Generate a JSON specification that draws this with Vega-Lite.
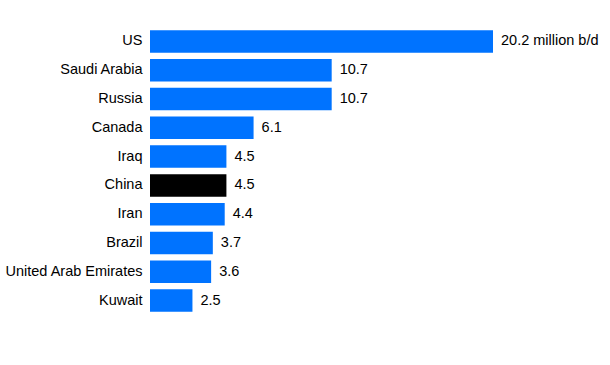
{
  "$schema": "https://vega.github.io/schema/vega-lite/v6.json",
  "autosize": {"type": "none"},
  "width": 343,
  "height": 288,
  "padding": {"left": 150, "top": 27, "right": 117, "bottom": 50},
  "background": "white",
  "config": {"view": {"stroke": null}, "font": "Liberation Sans"},
  "data": {"values": [
    {"country": "US", "value": 20.2, "label": "20.2 million b/d", "highlight": "no"},
    {"country": "Saudi Arabia", "value": 10.7, "label": "10.7", "highlight": "no"},
    {"country": "Russia", "value": 10.7, "label": "10.7", "highlight": "no"},
    {"country": "Canada", "value": 6.1, "label": "6.1", "highlight": "no"},
    {"country": "Iraq", "value": 4.5, "label": "4.5", "highlight": "no"},
    {"country": "China", "value": 4.5, "label": "4.5", "highlight": "yes"},
    {"country": "Iran", "value": 4.4, "label": "4.4", "highlight": "no"},
    {"country": "Brazil", "value": 3.7, "label": "3.7", "highlight": "no"},
    {"country": "United Arab Emirates", "value": 3.6, "label": "3.6", "highlight": "no"},
    {"country": "Kuwait", "value": 2.5, "label": "2.5", "highlight": "no"}
  ]},
  "encoding": {
    "y": {
      "field": "country", "type": "nominal", "sort": null,
      "scale": {"paddingInner": 0.22, "paddingOuter": 0.11},
      "axis": {"title": null, "domain": false, "ticks": false, "labelPadding": 8,
               "labelFontSize": 14.5, "labelColor": "#000000", "labelFont": "Liberation Sans"}
    }
  },
  "layer": [
    {
      "mark": {"type": "bar"},
      "encoding": {
        "x": {"field": "value", "type": "quantitative", "scale": {"domain": [0, 20.2], "nice": false}, "axis": null},
        "color": {"field": "highlight", "type": "nominal",
                  "scale": {"domain": ["no", "yes"], "range": ["#0073ff", "#000000"]}, "legend": null}
      }
    },
    {
      "mark": {"type": "text", "align": "left", "baseline": "middle", "dx": 8, "fontSize": 14.5, "color": "#000000", "font": "Liberation Sans"},
      "encoding": {
        "x": {"field": "value", "type": "quantitative"},
        "text": {"field": "label"}
      }
    }
  ]
}
